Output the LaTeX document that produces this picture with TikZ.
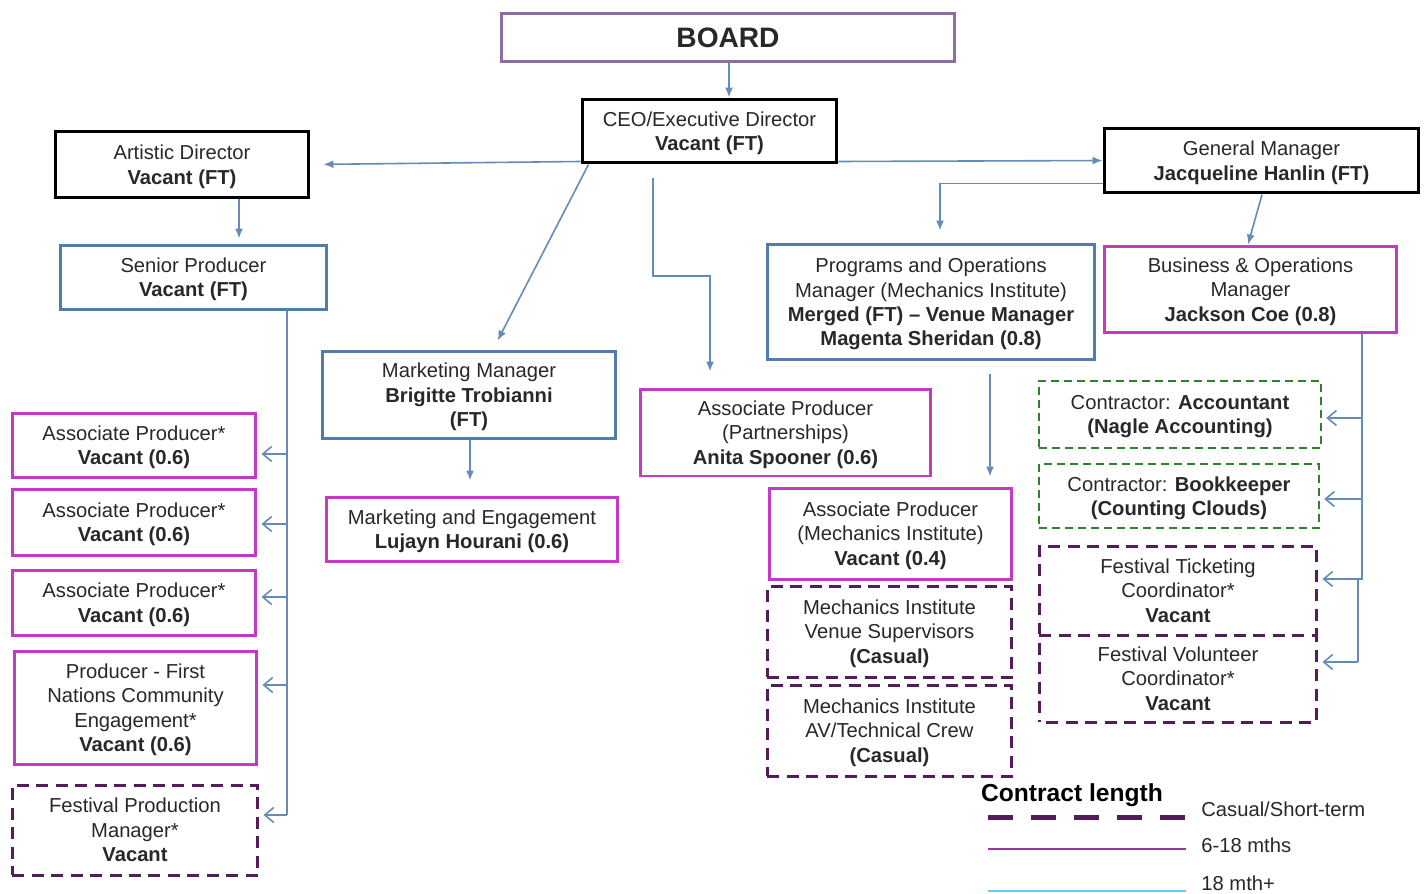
\documentclass[tikz,border=0pt]{standalone}
\usepackage{fontspec}
\setmainfont{Liberation Sans}
\usepackage{tikz}
\usetikzlibrary{arrows.meta}
\definecolor{steelb}{RGB}{80,125,170}
\definecolor{linkb}{RGB}{100,140,185}
\definecolor{magb}{RGB}{196,58,196}
\definecolor{casb}{RGB}{85,28,90}
\definecolor{ctrb}{RGB}{45,130,45}
\definecolor{brdb}{RGB}{140,110,165}
\definecolor{txtg}{RGB}{40,40,40}
\xdef\LWB{0.06cm}
\xdef\LWC{0.032cm}
\xdef\ColorLeg{magb!70!casb}
\xdef\ColorCy{cyan!60!white}

\begin{document}
\begin{tikzpicture}[x=0.02cm,y=-0.02cm,
  every node/.style={align=center,text=txtg,font=\fontsize{11.5}{13.9}\selectfont,inner sep=0},
  card/.style={text depth=-2pt},
  boardbox/.style={draw=brdb,line width=\LWB},
  leadbox/.style={card,draw=black,line width=\LWB},
  permbox/.style={card,draw=steelb,line width=\LWB},
  fixbox/.style={card,draw=magb,line width=\LWB},
  casbox/.style={card,draw=casb,line width=\LWB,dash pattern=on 0.24cm off 0.15cm},
  ctrbox/.style={card,draw=ctrb,line width=0.05cm,dash pattern=on 0.16cm off 0.1cm},
  conn/.style={draw=linkb,line width=\LWC,-{Latex[length=0.2cm,width=0.16cm]}},
  trunk/.style={draw=linkb,line width=\LWC},
  branch/.style={draw=linkb,line width=\LWC,-{Straight Barb[length=0.18cm,width=0.3cm]}}]
\useasboundingbox (0,0) rectangle (1427,893);
\fill[white] (0,0) rectangle (1427,893);

% top of the tree
\node[boardbox,minimum width=9.08cm,minimum height=0.98cm] (board) at (728,37.5) {\fontsize{16}{18}\selectfont\textbf{BOARD}};
\node[leadbox,minimum width=5.1cm,minimum height=1.28cm] (ceo) at (709.5,131) {CEO/Executive Director\\\textbf{Vacant (FT)}};
\node[leadbox,minimum width=5.08cm,minimum height=1.34cm] (ad) at (182,164.5) {Artistic Director\\\textbf{Vacant (FT)}};
\node[leadbox,minimum width=6.3cm,minimum height=1.3cm] (gm) at (1261.5,160.5) {General Manager\\\textbf{Jacqueline Hanlin (FT)}};

% managers
\node[permbox,minimum width=5.34cm,minimum height=1.28cm] (sp) at (193.5,277) {Senior Producer\\\textbf{Vacant (FT)}};
\node[permbox,minimum width=5.88cm,minimum height=1.76cm] (mm) at (469,395) {Marketing Manager\\\textbf{Brigitte Trobianni}\\\textbf{(FT)}};
\node[fixbox,minimum width=5.84cm,minimum height=1.28cm] (me) at (472,529) {Marketing and Engagement\\\textbf{Lujayn Hourani (0.6)}};
\node[fixbox,minimum width=5.82cm,minimum height=1.74cm] (app) at (785.5,432.5) {Associate Producer\\(Partnerships)\\\textbf{Anita Spooner (0.6)}};
\node[permbox,minimum width=6.56cm,minimum height=2.32cm] (pom) at (931,302) {Programs and Operations\\Manager (Mechanics Institute)\\\textbf{Merged (FT) -- Venue Manager}\\\textbf{Magenta Sheridan (0.8)}};
\node[fixbox,minimum width=5.86cm,minimum height=1.74cm] (bom) at (1250.5,289.5) {Business \& Operations\\Manager\\\textbf{Jackson Coe (0.8)}};

% mechanics institute
\node[fixbox,minimum width=4.86cm,minimum height=1.82cm] (apm) at (890.5,533.5) {Associate Producer\\(Mechanics Institute)\\\textbf{Vacant (0.4)}};
\node[casbox,minimum width=4.9cm,minimum height=1.82cm] (mvs) at (889.5,631.5) {Mechanics Institute\\Venue Supervisors\\\textbf{(Casual)}};
\node[casbox,minimum width=4.9cm,minimum height=1.82cm] (mav) at (889.5,730.5) {Mechanics Institute\\AV/Technical Crew\\\textbf{(Casual)}};

% business side
\node[ctrbox,minimum width=5.64cm,minimum height=1.34cm] (acc) at (1180,414.5) {Contractor: \textbf{Accountant}\\\textbf{(Nagle Accounting)}};
\node[ctrbox,minimum width=5.6cm,minimum height=1.28cm] (bkp) at (1179,496) {Contractor: \textbf{Bookkeeper}\\\textbf{(Counting Clouds)}};
\node[casbox,minimum width=5.56cm,minimum height=1.78cm] (ftc) at (1178,590.5) {Festival Ticketing\\Coordinator*\\\textbf{Vacant}};
\node[casbox,dash phase=0.25cm,minimum width=5.56cm,minimum height=1.74cm] (fvc) at (1178,678.5) {Festival Volunteer\\Coordinator*\\\textbf{Vacant}};

% producers
\node[fixbox,minimum width=4.88cm,minimum height=1.28cm] (ap1) at (134,445) {Associate Producer*\\\textbf{Vacant (0.6)}};
\node[fixbox,minimum width=4.88cm,minimum height=1.32cm] (ap2) at (134,522) {Associate Producer*\\\textbf{Vacant (0.6)}};
\node[fixbox,minimum width=4.88cm,minimum height=1.3cm] (ap3) at (134,602.5) {Associate Producer*\\\textbf{Vacant (0.6)}};
\node[fixbox,minimum width=4.86cm,minimum height=2.26cm] (pfn) at (135.5,707.5) {Producer - First\\Nations Community\\Engagement*\\\textbf{Vacant (0.6)}};
\node[casbox,minimum width=4.92cm,minimum height=1.8cm] (fpm) at (135,830) {Festival Production\\Manager*\\\textbf{Vacant}};

% links
\draw[conn] (board.south -| 729,0) -- (ceo.north -| 729,0);
\draw[conn,shorten >=0.26cm] ([yshift=0.06cm]ceo.south west) -- (ad.east);
\draw[conn] ([yshift=0.06cm]ceo.south east) -- (gm.west);
\draw[conn,shorten >=0.2cm] ([xshift=0.16cm]ceo.south west) -- (mm.north -| 493,0);
\draw[conn,shorten <=0.28cm,shorten >=0.32cm] (ceo.south -| 653,0) |- (710,276) -- (app.north -| 710,0);
\draw[conn,shorten >=0.24cm] ([yshift=0.22cm]gm.south west) -| (pom.north -| 940,0);
\draw[conn] (gm.south -| 1262,0) -- (bom.north -| 1248,0);
\draw[conn,shorten >=0.1cm] (ad.south -| 239,0) -- (sp.north -| 239,0);
\draw[conn,shorten >=0.3cm] (mm.south -| 470,0) -- (me.north -| 470,0);
\draw[conn,shorten <=0.26cm,shorten >=0.2cm] (pom.south -| 990,0) -- (apm.north -| 990,0);

% producer branches
\draw[trunk] (sp.south -| 287,0) -- (287,815);
\foreach \n/\y in {ap1/454,ap2/524,ap3/597,pfn/685,fpm/815}
  \draw[branch,shorten >=0.08cm] (287,\y) -- (\n.east |- 0,\y);

% business branches
\draw[trunk] (bom.south -| 1362,0) -- (1362,579) -- (1358,579) -- (1358,662);
\foreach \n/\y/\t in {acc/418/1362,bkp/499/1362,ftc/579/1358,fvc/662/1358}
  \draw[branch,shorten >=0.08cm] (\t,\y) -- (\n.east |- 0,\y);

% contract length key
\node[font=\fontsize{14}{16}\selectfont\bfseries,text=black] (keyhead) at (1072,795) {Contract length};
\node[anchor=west] (keycas) at (1201,809) {Casual/Short-term};
\node[anchor=west] (keyfix) at (1201,845) {6-18 mths};
\node[anchor=west] (keyperm) at (1201,883) {18 mth+};
\draw[casb,line width=0.1cm,dash pattern=on 0.5cm off 0.36cm] (988,817) -- (1187,817);
\draw[\ColorLeg,line width=0.045cm] (988,849) -- (1186,849);
\draw[\ColorCy,line width=0.045cm] (988,891) -- (1186,891);
\end{tikzpicture}
\end{document}
